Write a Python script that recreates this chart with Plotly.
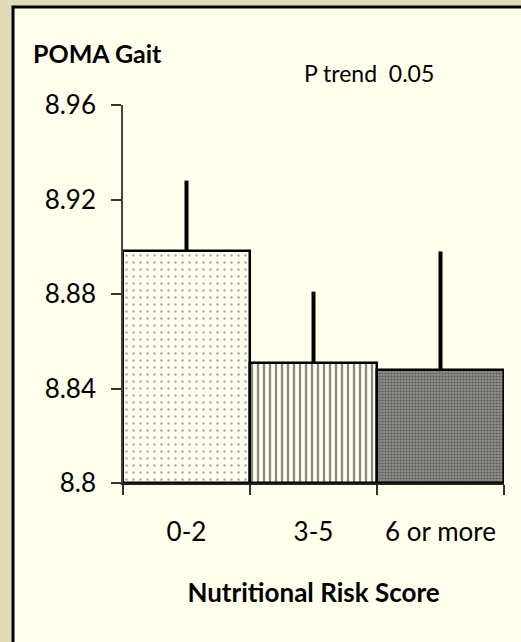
import plotly.graph_objects as go

categories = ["0-2", "3-5", "6 or more"]
means = [8.898, 8.851, 8.848]
err_up = [0.030, 0.030, 0.050]
y_ticks = [8.8, 8.84, 8.88, 8.92, 8.96]
y_tick_labels = ["8.8", "8.84", "8.88", "8.92", "8.96"]

W, H = 521, 642
L, R, T, B = 123, 17, 105, 159
pw, ph = W - L - R, H - T - B

def px(x):
    return (x - L) / pw

def py(y):
    return (H - B - y) / ph

FONT = "Lato"

styles = [
    dict(bg="#fffff0", fg="#555555", shape=".", size=7, solidity=0.1),
    dict(bg="#fffff0", fg="#111111", shape="|", size=6, solidity=0.38),
    dict(bg="#8e8e88", fg="#2a2a2a", shape=".", size=3, solidity=0.4),
]

fig = go.Figure()
for cat, m, e, st in zip(categories, means, err_up, styles):
    fig.add_trace(go.Bar(
        x=[cat],
        y=[m - 8.8],
        base=8.8,
        width=1.0,
        marker=dict(
            color=st["bg"],
            line=dict(color="black", width=2.5),
            pattern=dict(shape=st["shape"], size=st["size"], solidity=st["solidity"],
                         fgcolor=st["fg"], bgcolor=st["bg"], fillmode="overlay"),
        ),
        error_y=dict(type="data", symmetric=False, array=[e], arrayminus=[0],
                     width=0, thickness=4, color="black"),
    ))

fig.add_shape(type="rect", xref="paper", yref="paper",
              x0=px(13), x1=px(540), y0=py(660), y1=py(7),
              fillcolor="#ffffec", line=dict(color="black", width=3),
              layer="below")

fig.add_annotation(text="<b>POMA Gait</b>", xref="paper", yref="paper",
                   x=px(31), y=py(53), xanchor="left", yanchor="middle",
                   showarrow=False, font=dict(family=FONT, size=25, color="black"))
fig.add_annotation(text="P trend  0.05", xref="paper", yref="paper",
                   x=px(302), y=py(73), xanchor="left", yanchor="middle",
                   showarrow=False, font=dict(family=FONT, size=23, color="black"))

fig.update_layout(
    width=W, height=H,
    margin=dict(l=L, r=R, t=T, b=B),
    paper_bgcolor="#e0dcb8",
    plot_bgcolor="rgba(0,0,0,0)",
    barmode="overlay",
    bargap=0,
    showlegend=False,
    xaxis=dict(
        range=[-0.5, 2.5], tickson="boundaries", ticks="outside", ticklen=10,
        tickcolor="#333", tickwidth=1.5, showline=True, linecolor="#222", linewidth=2,
        showgrid=False, zeroline=False,
        tickfont=dict(family=FONT, size=26, color="black"),
        ticklabelstandoff=25,
        title=dict(text="<b>Nutritional Risk Score</b>", standoff=38,
                   font=dict(family=FONT, size=26, color="black")),
    ),
    yaxis=dict(
        range=[8.8, 8.96], tickvals=y_ticks, ticktext=y_tick_labels,
        ticks="outside", ticklen=10, tickcolor="#333", tickwidth=1.5,
        showline=True, linecolor="#444", linewidth=1.5,
        showgrid=False, zeroline=False,
        tickfont=dict(family=FONT, size=26, color="black"),
        ticklabelstandoff=10,
    ),
)

fig.write_html("out.html")
